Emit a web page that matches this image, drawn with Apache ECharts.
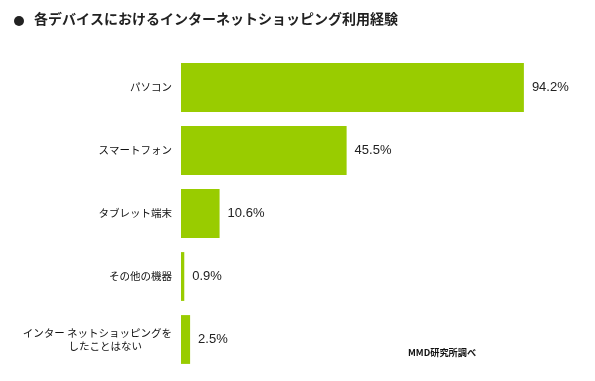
<!DOCTYPE html>
<html><head><meta charset="utf-8">
<script src="https://cdn.jsdelivr.net/npm/echarts@6/dist/echarts.min.js"></script>
<style>html,body{margin:0;padding:0;background:#fff}#c{width:595px;height:381px}</style>
</head><body><div id="c"></div>
<script>
const titleText = '各デバイスにおけるインターネットショッピング利用経験';
const sourceText = 'MMD研究所調べ';
const categories = ['パソコン', 'スマートフォン', 'タブレット端末', 'その他の機器', 'インター ネットショッピングを\nしたことはない'];
const values = [94.2, 45.5, 10.6, 0.9, 2.5];

const chart = echarts.init(document.getElementById('c'));
const jp = '"Noto Sans CJK JP", sans-serif';
chart.setOption({
  animation: false,
  backgroundColor: '#fff',
  title: [
    { text: titleText, left: 29, top: 7, padding: 5, textStyle: { fontFamily: jp, fontSize: 14, fontWeight: 'bold', color: '#222' } },
    { text: sourceText, left: 403, top: 343, padding: 5, textStyle: { fontFamily: jp, fontSize: 9.2, fontWeight: 'bold', color: '#111' } }
  ],
  graphic: [
    { type: 'circle', shape: { cx: 19, cy: 21, r: 5 }, style: { fill: '#222' } }
  ],
  grid: { left: 181, right: 50, top: 56, bottom: 10, containLabel: false },
  xAxis: { type: 'value', min: 0, max: 100, show: false, splitLine: { show: false } },
  yAxis: {
    type: 'category', data: categories, inverse: true,
    axisLine: { show: false }, axisTick: { show: false },
    axisLabel: {
      margin: 9, fontFamily: jp, fontSize: 10.5, color: '#111', lineHeight: 13,
      formatter: function (v) {
        if (v.indexOf('\n') >= 0) {
          const p = v.split('\n');
          return '{a|' + p[0] + '}\n{b|' + p[1] + '}';
        }
        return v;
      },
      rich: {
        a: { fontFamily: jp, fontSize: 10.5, color: '#111', lineHeight: 13 },
        b: { fontFamily: jp, fontSize: 10.5, color: '#111', lineHeight: 13, padding: [0, 30, 0, 0] }
      }
    }
  },
  series: [{
    type: 'bar', data: values, barCategoryGap: '22.5%',
    itemStyle: { color: '#99CC00' },
    label: {
      show: true, position: 'right', distance: 8,
      formatter: function (p) { return p.value.toFixed(1) + '%'; },
      fontFamily: '"Liberation Sans", Arial, sans-serif', fontSize: 13, color: '#222'
    }
  }]
});
</script></body></html>
